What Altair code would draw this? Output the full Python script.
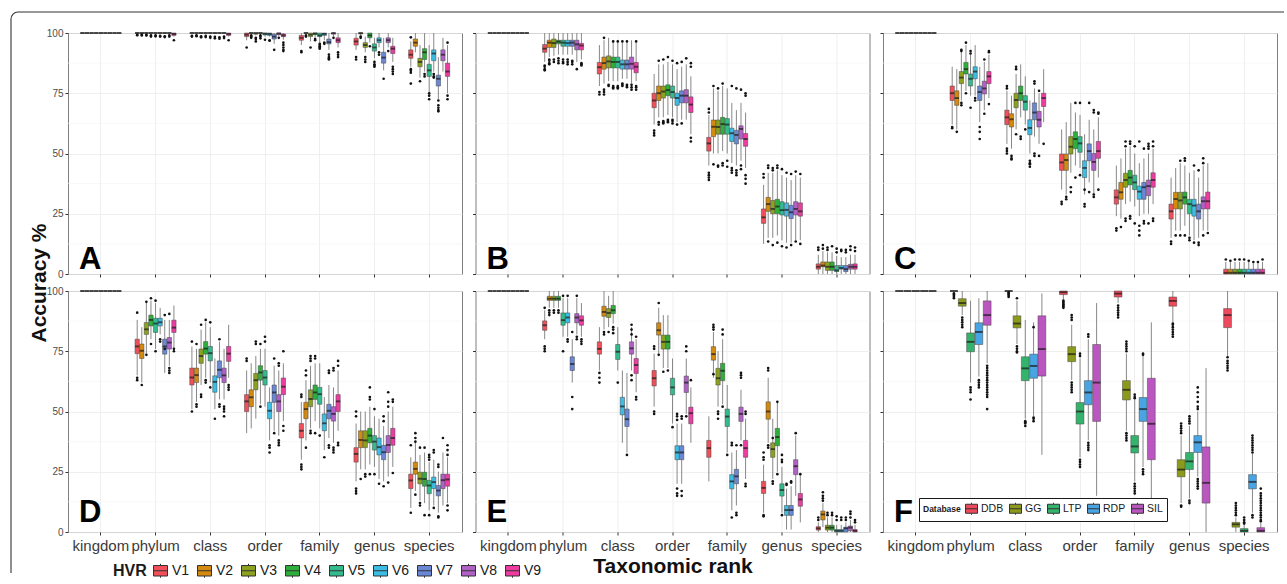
import altair as alt
import pandas as pd

RANKS = ["kingdom", "phylum", "class", "order", "family", "genus", "species"]
HVR = ["V1", "V2", "V3", "V4", "V5", "V6", "V7", "V8", "V9"]
HVR_COLORS = ["#F0505A", "#D4890F", "#8CA21F", "#2EAF3C", "#33BB8E", "#3CBDE4", "#6A88D6", "#B061C6", "#EC3DA0"]
DB = ["DDB", "GG", "LTP", "RDP", "SIL"]
DB_COLORS = ["#EE4A5C", "#8C9A1C", "#34B36D", "#48A4E2", "#BB56C0"]
MINOR_Y = [12.5, 37.5, 62.5, 87.5]

FULL = [100, 100, 100, 100, 100]

# box statistics per rank: one [low whisker, q1, median, q3, high whisker] per group
A_BOX = {
    "kingdom": [FULL] * 9,
    "phylum": [FULL, FULL, FULL, FULL, FULL, FULL, FULL, FULL, [98.5, 99, 99.6, 100, 100]],
    "class": [FULL, FULL, FULL, FULL, FULL, FULL, FULL, FULL, [98.5, 99, 99.6, 100, 100]],
    "order": [[97, 98.5, 99.3, 100, 100], FULL, [99, 99.5, 100, 100, 100], FULL, [98.5, 99.2, 99.7, 100, 100],
              [98.5, 99, 99.6, 100, 100], [95.5, 97.5, 98.5, 99.5, 100], [98.8, 99.3, 99.8, 100, 100], [97.2, 98.5, 99, 99.6, 100]],
    "family": [[95, 97, 98, 99, 100], FULL, [96.5, 98.5, 99.3, 100, 100], [98, 99.3, 99.8, 100, 100], [96, 98.5, 99, 100, 100],
               [97, 99, 99.6, 100, 100], [93, 95.5, 96.2, 97.5, 100], [98.5, 99.5, 100, 100, 100], [94, 96, 97, 98, 100]],
    "genus": [[93, 95, 96.5, 97.8, 100], [99, 99.6, 100, 100, 100], [92, 94, 95, 96, 98.5], [96, 98, 99, 100, 100],
              [89.5, 92.5, 94, 95.5, 98], [94, 96, 97, 98, 100], [84.5, 87.5, 89.8, 92, 98], [94, 96, 97, 98, 100], [88, 91.5, 93.5, 94.5, 98]],
    "species": [[86, 89.5, 91, 93, 96.5], [92, 94.5, 96, 97.5, 100], [81.5, 86, 88, 89.5, 95], [84, 89, 92, 93.5, 100],
                [75.5, 82, 84.5, 87, 95], [84, 88.5, 91.5, 93, 100], [72.5, 78, 81, 82.5, 90], [84, 88.5, 91, 93, 98], [75, 82, 84, 87.5, 95]],
}
A_OUT = {
    "phylum": [[99.2, 99.1], [99.3, 99], [99.2, 99], [99, 98.5], [99, 98.6], [98.8, 98.5], [98.6, 98.3], [99, 98.5], [97]],
    "class": [[98.8, 98.5], [99, 98.7], [98.6, 98.2], [98.8, 98.3], [98.5, 98], [98.4, 97.8], [98.2, 97.6], [98.5, 97.9], [97]],
    "order": [[94], [99, 98.5, 98], [98, 97.5, 96.5], [99, 98.5, 97.8], [97.2], [97, 96.8], [93], [98], [96, 95, 94, 93, 92.5]],
    "family": [[92.5, 92], [99, 98.5], [94], [97.5, 97], [95.5, 95, 94.5, 94, 93.5], [96, 95.5], [91, 90, 89.5, 89], [98], [92, 91, 90]],
    "genus": [[90, 89], [98.5, 98], [90, 89, 88], [94.5], [88, 87, 86.5, 86], [92, 91], [81], [92.5], [86, 85, 84, 83]],
    "species": [[98.2, 85, 84.3, 83.5, 79], [], [80], [83, 82], [75, 74, 72.5], [83, 82, 81.5], [72, 70, 69, 68, 67.5], [], [96, 74, 72.5]],
}

B_BOX = {
    "kingdom": [FULL] * 9,
    "phylum": [[88, 92, 93.5, 95.2, 100], [90, 94, 96, 97, 100], [90.5, 94, 95.8, 97.5, 100], [91, 95.5, 96.4, 97, 100],
               [91, 94.5, 96, 97, 100], [91, 94.5, 95.8, 97, 100], [91, 94.5, 96, 97, 100], [88, 93, 95.3, 97, 100], [89, 93, 94.8, 95.7, 100]],
    "class": [[78, 83, 85.8, 87.8, 95], [79, 85, 87.5, 90, 97], [80, 85.5, 88.2, 90.5, 98], [80, 85.5, 88, 90, 97],
              [80, 85.5, 88, 90, 97], [81, 85, 87, 88.8, 96], [81, 85, 87, 88.8, 96], [79, 85, 87.2, 90, 97], [80, 83.5, 86, 87.8, 96]],
    "order": [[62, 69, 72, 75, 83], [65, 72, 75, 78, 87], [65, 73, 75.7, 78, 87], [66, 74, 76.3, 78.5, 88],
              [65, 73, 75.5, 78, 87], [63, 70, 73, 75, 85], [64, 71, 74, 76, 86], [64, 71, 74, 76.5, 87], [58, 67, 70.3, 73.5, 82]],
    "family": [[45, 51, 54.2, 56.7, 66], [50, 57, 61.1, 63.9, 77], [50, 58, 61, 63.9, 76], [51, 58, 62.2, 65, 78],
               [50, 58, 62, 64.5, 77], [46, 55, 58.4, 60.5, 71], [45, 54, 57.7, 59.6, 68], [47, 56, 60.2, 61.5, 71], [44, 53, 56, 58.3, 67]],
    "genus": [[12.5, 21, 23.5, 27, 37], [15, 26, 29, 31.8, 42], [15, 25, 27, 30.5, 42], [16, 25, 28, 31, 43],
              [14, 24.5, 26.5, 30, 41], [13, 24, 26.6, 29.5, 40], [13, 23, 25.6, 28.5, 39], [14, 24.5, 27, 30, 41], [14, 24, 26, 29.5, 40]],
    "species": [[0, 2, 3, 4.2, 8], [0, 3, 3.5, 5, 9.5], [0, 1.5, 3, 5, 9], [0, 1.5, 3, 5, 9],
                [0, 1, 1.5, 3.5, 7.5], [0, 2, 2.5, 3.5, 7], [0, 1, 2, 3.5, 7], [0, 2, 3, 4, 8], [0, 2, 3, 4.2, 8]],
}
B_OUT = {
    "phylum": [[86.5, 86, 85, 84.5], [89, 88.5, 87.5, 87], [89, 88], [89.5, 88.5, 87.5], [89, 88, 87.5], [89, 88, 87], [88.5, 88, 87], [85], [87.5, 87, 86.5]],
    "class": [[75.5, 74.5], [76.5, 75.5, 74.5, 98], [78.5, 78], [78, 77.5, 77, 96.5], [78, 77.5, 77, 96.5], [79, 78.5, 78, 96.5], [78.5, 78, 77.5, 96.5], [78.5, 77.5, 76.5], [78, 77.5, 76.5, 96.5]],
    "order": [[59.5, 58.5, 57.5], [63, 62, 88.5], [63.5, 63, 62.5, 89], [64, 63.5, 63, 90], [64, 63.5, 62.5, 88.5], [62, 87.5], [62.5, 88], [89.5], [56.5, 55, 87.5, 86]],
    "family": [[42, 41, 40, 39, 68.5, 67], [45.5, 78], [44.5, 45, 77], [46, 45, 79], [47, 44.5], [44, 43, 42, 78], [43, 42, 41, 77], [45, 43.5, 76.5], [41, 39.5, 37.5, 75, 74]],
    "genus": [[40, 41.5], [44, 45, 13.5], [43, 44, 12], [45, 44, 13], [43.5, 11.5], [42, 11], [41.5, 12], [42.5, 13.5], [41.5, 12.5]],
    "species": [[10, 11], [10.5, 12], [10, 11], [11.5], [9, 10.5], [9.5, 10], [9, 10], [10, 11.5], [9.5, 11]],
}

C_BOX = {
    "kingdom": [FULL] * 9,
    "phylum": [[62, 72, 75, 78, 86], [60, 70, 73, 76, 85], [72, 79, 81.5, 84, 92], [76, 83, 85, 87.8, 95],
               [74, 78, 81, 83, 91], [74, 81, 84, 86, 95], [63, 72, 75.5, 78, 86], [68, 74.7, 77, 80, 88], [73, 79, 82, 84, 91]],
    "class": [[54, 62, 65, 68, 76], [52, 61, 64.2, 66.5, 74], [60, 69, 72.2, 75, 83], [65, 72, 75, 78, 87],
              [62, 68, 71.5, 74, 82], [50, 57.8, 60.6, 64, 72], [57, 64, 67, 71, 77], [54, 61, 64, 67.5, 75], [63, 69.5, 73, 75, 85]],
    "order": [[35, 43, 46.3, 49.8, 60], [33, 43, 47.3, 49.8, 63], [42, 49.8, 52.8, 57, 71], [45, 52, 56, 59, 67],
              [44, 50.5, 54.2, 57, 66], [33, 40, 44, 47, 58], [38, 47, 51, 54, 64], [33, 43, 46.5, 50, 60], [40, 48, 51, 55, 65]],
    "family": [[24, 29, 31.8, 34.9, 45], [23, 31, 33.9, 38, 48], [29, 36, 39, 41.8, 52], [30, 37, 40, 43, 53],
               [28, 35, 38, 41, 50], [24, 31, 34.2, 36.5, 46], [25, 31, 36, 38, 48], [25, 32.5, 36.5, 39, 50], [29, 36, 39, 42, 52]],
    "genus": [[15, 22.8, 26, 29, 40], [18, 27, 31.1, 33.9, 44], [18, 27, 30.5, 33.9, 46], [20, 29, 31.8, 34, 45],
              [16, 25, 29, 31, 42], [14, 24, 28.4, 31, 43], [15, 22.8, 26, 29, 40], [18, 27, 30.2, 32, 45], [18, 27, 30.2, 34, 46]],
    "species": [[0, 0, 0.5, 2, 5], [0, 0, 0.5, 2, 5], [0, 0, 0.5, 2, 5], [0, 0, 0.5, 2, 5],
                [0, 0, 0.5, 2, 5], [0, 0, 0.5, 2, 5], [0, 0, 0.5, 2, 4.5], [0, 0, 0.5, 2, 4.5], [0, 0, 0.5, 2, 5]],
}
C_OUT = {
    "phylum": [[61, 60.5], [59], [92.5, 93, 71, 70], [96, 75], [91.5, 92.5, 69], [73, 72], [61, 59, 56], [89, 66.5], [92, 92.5, 70.5]],
    "class": [[78, 77, 52, 51, 50], [49, 48, 47.5], [86, 85, 58], [57, 56], [60], [47, 46, 45.5, 44.5], [80, 79, 50, 49], [76, 49], [54]],
    "order": [[30, 29], [32, 31], [36, 34], [71, 40], [71, 41], [35, 29, 28], [34, 71], [33, 32, 67, 68], [35, 66.5, 67]],
    "family": [[19, 18], [19.5], [55, 53, 22, 23], [54, 55, 23, 24], [53, 21], [55, 20, 18, 16], [52, 22, 21], [52, 53, 54, 21], [55, 53, 23, 22]],
    "genus": [[13.5, 12.5], [16], [47, 16], [48, 47, 16], [15, 14], [45, 13], [43, 13, 12], [48, 46, 16], [17]],
    "species": [[6], [5.5], [6], [6], [6], [5.5], [5], [5], [6]],
}

D_BOX = {
    "kingdom": [FULL] * 9,
    "phylum": [[65, 74, 77, 80, 88], [62, 72, 75.2, 78, 85], [74, 82, 84.1, 86.9, 95], [80, 85.5, 88, 90, 96],
               [76, 82.8, 86.5, 88.7, 95], [82, 85.5, 87, 88.7, 93], [66, 73.8, 77, 80, 88], [69, 75.9, 78.6, 80.7, 88], [76, 82.8, 84.8, 87.9, 94]],
    "class": [[51, 61, 64.1, 68, 77], [54, 62, 65.1, 68, 76], [61, 70, 73, 75.9, 84], [64, 73.8, 76.1, 79, 87],
              [62, 71, 74.2, 77, 85], [51, 58, 62.3, 64.8, 72], [55, 64, 67.3, 71, 79], [55, 62, 65, 68, 76], [64, 70.8, 74, 77, 86]],
    "order": [[41, 50, 54.2, 57, 67], [43, 52, 55.9, 59, 70], [47, 59, 63, 65.8, 73], [53, 63, 66.2, 69, 76],
              [52, 61, 64.1, 67, 76], [38, 47, 50.3, 53.8, 60], [42, 53.8, 57.9, 61, 69], [40, 50, 54.2, 57, 67], [46, 57, 60.3, 63.9, 70]],
    "family": [[30, 39, 42, 45, 54], [38, 47, 51, 53.8, 63], [43, 52, 55.2, 59, 69], [46, 55, 57.9, 61, 70],
               [43, 53, 57.2, 60, 70], [34, 42, 45.1, 49, 56], [39, 47, 50.3, 53, 61], [37, 46, 49, 52, 60], [42, 50, 54.2, 57, 67]],
    "genus": [[21, 29, 32.4, 35, 45], [26, 35, 38.2, 42, 50], [26, 35, 38, 42, 50], [28, 37, 40, 43, 52],
              [27, 34, 37.5, 40, 48], [22, 32, 35.2, 39, 47], [21, 30, 33.1, 36, 44], [23, 33, 36.1, 40, 50], [27, 36, 39, 43, 52]],
    "species": [[10, 18, 21.4, 24, 31], [17, 24, 26.2, 29, 37], [13, 20, 22.1, 24.8, 32], [12, 19, 22, 24.8, 33],
                [9, 15.9, 19.3, 21.4, 29], [11, 18, 20.7, 22.8, 30], [8, 15, 17.2, 19.3, 25], [11, 18, 21.5, 24, 33], [12, 19, 21.8, 24, 31]],
}
D_OUT = {
    "phylum": [[64, 63, 91], [61], [73.5, 95.5], [97, 78], [75, 96], [80, 79], [90, 76], [68, 67, 66, 90.5], [76, 75]],
    "class": [[79, 50], [78, 53, 52], [86, 57, 56], [88, 63, 62], [87, 60], [47], [80, 53, 52], [52, 51, 50, 48], [61, 60, 59]],
    "order": [[71, 72], [], [78, 79], [78, 52], [81, 79], [36, 35, 33], [72, 41], [70, 69, 38, 37, 36], [75, 44, 42]],
    "family": [[28, 27, 26, 57, 56], [35, 67, 65], [73, 72, 71, 42, 41], [73, 72, 41], [40], [31], [67, 66, 36, 35], [68, 67, 35, 34, 33], [71, 69, 37, 36]],
    "genus": [[50, 48, 18, 17, 16], [22], [24, 23], [60, 56, 55, 24], [51, 24], [20], [48, 46, 19], [58, 54, 52, 20.5], [55, 54, 24.5]],
    "species": [[36, 8], [41, 39, 37.5, 15.5], [35, 12, 11], [35, 7], [32, 31, 30, 7], [34, 33, 10], [28, 27, 6.5, 6], [39], [36, 34, 32, 11, 9]],
}

E_BOX = {
    "kingdom": [FULL] * 9,
    "phylum": [[80, 83.7, 85.8, 87.6, 92], [93, 96.1, 96.8, 97.8, 100], [93, 96.1, 96.8, 97.8, 100], [93, 96.1, 96.8, 97.8, 100],
               [81, 85.8, 87.9, 90.9, 97], [81, 86.8, 89, 90.9, 97], [62, 67, 69.7, 72.7, 80], [82, 86.8, 89, 90.6, 97], [81, 85.8, 87.8, 89.7, 95]],
    "class": [[67, 73.8, 76, 78.9, 85], [84, 89.5, 91.3, 93.7, 100], [85, 89, 90.9, 92.7, 98], [86.5, 90.6, 92, 94, 100],
              [67, 71.6, 74.8, 77.8, 85], [37, 48.6, 52.1, 55.9, 67], [33, 43.8, 46.8, 51, 66], [67, 73.8, 76.2, 78.9, 85], [58, 65.8, 69.3, 72, 80]],
    "order": [[52, 60.6, 63.8, 67, 74], [74, 81.7, 83.7, 86.8, 93], [68, 75.9, 78.9, 81.7, 90], [68, 75.9, 78.9, 81.7, 90],
              [45, 56.9, 60, 63.8, 72], [20, 30, 33, 35.8, 45], [20, 30, 33, 35.8, 45], [49, 57.9, 62, 64.7, 72], [37, 44.9, 49.3, 51.8, 60]],
    "family": [[21, 31, 34.8, 38, 48], [64, 71.3, 73.8, 76.9, 83], [52, 61, 63.8, 67.9, 75], [53, 62.8, 66.9, 70, 80],
               [33, 43.8, 47.9, 51, 61], [9, 17.9, 21, 23.8, 33], [11, 20, 23.1, 26, 34], [38, 45.9, 49, 51.8, 59], [22, 31, 34.8, 38, 47]],
    "genus": [[8, 16, 18.3, 21, 28], [37, 46.8, 50, 54, 64], [22, 31, 34.4, 37, 47], [25, 35.8, 39.4, 43, 54],
              [8, 14.9, 17.4, 20, 27], [1, 6.9, 9.1, 11, 18], [1, 6.9, 9.1, 11, 19], [15, 23.8, 27.3, 30, 40], [4, 10.7, 13.5, 16, 24]],
    "species": [[0, 0.8, 1.5, 2.2, 4], [2, 5, 7.3, 8.7, 12], [0, 0.8, 1.8, 2.8, 6], [0, 0.8, 1.8, 2.8, 6],
                [0, 0, 0.5, 1, 3], [0, 0, 0.5, 1, 3], [0, 0, 1.5, 2, 4], [0, 0.5, 1.8, 2.5, 5], [0, 0, 0.5, 1, 3]],
}
E_OUT = {
    "phylum": [[93, 77, 76, 75], [92, 91, 90], [92, 91], [92, 91], [98, 75], [98, 80, 79], [83, 56, 51], [98, 81, 80], [80, 79, 78]],
    "class": [[66, 64, 62], [83, 82], [83], [85, 84, 82.5], [62], [], [32], [86, 84, 82, 65, 63], [81, 56, 55]],
    "order": [[77, 76, 50, 49], [95, 73.5], [66.5], [67], [43.5], [49, 48, 46.5, 18, 16, 15], [48, 47, 17, 15], [77, 75, 48], [63]],
    "family": [[], [86, 85, 84, 65.5], [50, 49, 47], [84, 82, 52], [32], [36, 37, 6], [36, 8, 7], [66, 65, 64, 36], [50, 49, 20, 19]],
    "genus": [[33, 31, 30, 7, 6.5], [68, 67, 36, 35], [39, 21, 20], [54, 24], [32, 30, 29, 7], [20, 19.5], [21, 20.5], [41], [24]],
    "species": [[5, 6], [13, 14, 15, 16.5], [7, 8], [7, 8], [5, 6.5], [5, 6], [5, 6], [6, 7.5, 8.5], [4, 5]],
}

F_BOX = {
    "kingdom": [FULL] * 5,
    "phylum": [FULL, [90, 93.7, 95, 96.8, 100], [62, 74.8, 78.9, 82.6, 96], [64.5, 77.8, 83, 86.8, 97], [70, 85.8, 90, 95.9, 100]],
    "class": [FULL, [78, 84.7, 86.5, 89.7, 96], [47, 62.8, 67.9, 72.7, 88], [48, 63.8, 68.9, 73.8, 87], [32, 64.7, 75.9, 89.7, 99]],
    "order": [[96.5, 98.5, 99.5, 100, 100], [63, 70.7, 73.8, 76.9, 86], [31, 44.8, 50, 53.7, 72], [38, 52.8, 57.9, 62.8, 80], [15, 45.9, 62, 77.8, 95]],
    "family": [[95, 97.5, 98.9, 100, 100], [42, 54.8, 59, 62.8, 74], [21, 32.8, 35.5, 40, 55], [27, 45.9, 51, 55.8, 73], [6, 30, 44.9, 63.8, 87]],
    "genus": [[87, 93.7, 95.9, 97.5, 100], [12, 22.9, 25.9, 30, 40], [14, 25.9, 29.3, 33, 44], [23, 33, 37.2, 40, 50], [0, 12, 20.4, 35.3, 68]],
    "species": [[73, 84.8, 90, 92.7, 100], [0, 2, 3.2, 4, 6], [0, 0, 0.5, 1.4, 3], [8, 17.9, 20.8, 23.8, 32.5], [0, 0, 0.5, 1.8, 4]],
}
F_OUT = {
    "phylum": [[99, 98.5, 98, 97.5, 97], [89, 88, 87, 86, 85], [60, 59, 58, 55], [63, 62, 61, 60],
               [69, 68, 67, 66, 65, 64, 63, 62, 61, 60, 59, 58, 57, 56, 51]],
    "class": [[99.5, 99, 98.5, 98, 97.5], [97, 77, 76, 75, 74.5], [46, 45.5, 45, 44], [47.5, 47, 46, 85], []],
    "order": [[96, 95.5, 95, 94.5, 94, 93.5, 93], [90, 89, 88, 62, 61, 60, 59, 58], [74, 73, 30, 29, 28, 27], [82, 81, 37, 36, 35, 34], []],
    "family": [[94, 93, 92, 91, 90, 89], [79, 78, 77, 76, 75, 41, 40, 39, 38], [57, 56, 55.5, 20, 19, 18, 17, 16], [74, 73.5, 26, 25, 24], []],
    "genus": [[86.5, 86, 85, 84, 83, 82, 81], [45, 44, 43, 42, 41, 11, 10.5], [48, 47, 46, 45, 13, 12],
              [60, 58, 56, 54, 52, 51, 22, 21, 20, 19, 18], []],
    "species": [[72.5, 71, 70, 69, 68, 67], [12, 11, 10, 9, 8, 7], [6, 5, 4, 3.5], [40, 39, 38, 37, 36, 35, 34, 33, 7, 6],
                [18, 16, 15, 14, 13, 12, 11, 10, 9, 8, 7, 6, 5, 4.5]],
}

W, H = 394, 241
FONT = "Liberation Sans"
BOX_GLYPH = "M-1,-0.75H1V0.75H-1Z M-1,0H1 M0,-0.75V-1 M0,0.75V1"


def tables(box, out, groups):
    rows = []
    for r in RANKS:
        for g, s in zip(groups, box[r]):
            rows.append({"rank": r, "grp": g, "lo": s[0], "q1": s[1], "med": s[2], "q3": s[3], "hi": s[4]})
    orows = []
    for r, lists in out.items():
        for g, vals in zip(groups, lists):
            for v in vals:
                orows.append({"rank": r, "grp": g, "val": v})
    return pd.DataFrame(rows), pd.DataFrame(orows)


def panel(box, out, groups, colors, letter, bottom_row, left_col, legend=None, x_title=None, extra=None):
    bdf, odf = tables(box, out, groups)
    xaxis = alt.Axis(labels=bottom_row, ticks=True, tickSize=3, grid=True, domain=False, labelAngle=0,
                     title=x_title, bandPosition=0.5, labelFontSize=15, labelColor="#3a3a3a", labelPadding=3,
                     titleFontSize=21, titleFontWeight="bold", titleColor="#111", titlePadding=2)
    yaxis = alt.Axis(values=[0, 25, 50, 75, 100], labels=left_col, ticks=True, tickSize=3, grid=True, domain=False,
                     title=None, labelFontSize=10, labelColor="#4d4d4d", labelPadding=2)
    xs = alt.Scale(domain=RANKS, paddingInner=0.25, paddingOuter=0.225)
    ys = alt.Scale(domain=[0, 100], nice=False, zero=False)
    xo = alt.XOffset("grp:N", sort=groups, scale=alt.Scale(domain=groups, paddingInner=0.06, paddingOuter=0))
    X = alt.X("rank:N", sort=RANKS, scale=xs, axis=xaxis)

    def Y(f):
        return alt.Y(f, type="quantitative", scale=ys, axis=yaxis)

    tick = 4.3 if len(groups) == 9 else 7.8
    minor = alt.Chart(pd.DataFrame({"v": MINOR_Y})).mark_rule(color="#f4f4f4", strokeWidth=0.6).encode(y=Y("v"))
    base = alt.Chart(bdf)
    whisk = base.mark_rule(color="#7a7a7a", strokeWidth=0.9).encode(x=X, xOffset=xo, y=Y("lo"), y2="hi")
    boxes = base.mark_bar(stroke="#444", strokeWidth=0.5, opacity=1).encode(
        x=X, xOffset=xo, y=Y("q1"), y2="q3",
        color=alt.Color("grp:N", sort=groups, scale=alt.Scale(domain=groups, range=colors), legend=legend))
    meds = base.mark_tick(color="#1a1a1a", thickness=1.9, size=tick).encode(x=X, xOffset=xo, y=Y("med"))
    pts = alt.Chart(odf).mark_circle(size=7, color="#111", opacity=1).encode(x=X, xOffset=xo, y=Y("val"))
    lab = alt.Chart(pd.DataFrame({"t": [letter]})).mark_text(
        font=FONT, fontSize=31, fontWeight="bold", color="#000", align="left", baseline="alphabetic").encode(
        text="t:N", x=alt.value(11), y=alt.value(H - (10 if bottom_row else 5)))
    layers = [minor, whisk, boxes, meds, pts, lab]
    if extra:
        layers += extra
    return alt.layer(*layers).properties(width=W, height=H)


one = pd.DataFrame({"k": [0]})
ytitle = alt.Chart(pd.DataFrame({"t": ["Accuracy %"]})).mark_text(
    font=FONT, fontSize=21, fontWeight="bold", color="#111", angle=270, align="center", baseline="middle").encode(
    text="t:N", x=alt.value(-28), y=alt.value(250))
frame_top = alt.Chart(one).mark_rule(color="#333", strokeWidth=1.1).encode(
    x=alt.value(-50), x2=alt.value(1216), y=alt.value(-21))
frame_left = alt.Chart(one).mark_rule(color="#333", strokeWidth=1.1).encode(
    x=alt.value(-57), y=alt.value(-14), y2=alt.value(540))
frame_corner = alt.Chart(one).mark_arc(color="#333", radius=7.55, radius2=6.45, theta=4.712389, theta2=6.283185).encode(
    x=alt.value(-50), y=alt.value(-14))

hvr_legend = alt.Legend(orient="none", legendX=45, legendY=272, direction="horizontal", title="HVR",
                        titleOrient="left", titleFontSize=16, titleFontWeight="bold", titleColor="#1a1a1a",
                        titleFont=FONT, labelFont=FONT, labelFontSize=14, labelColor="#1a1a1a",
                        symbolType=BOX_GLYPH, symbolSize=196, symbolStrokeColor="#333", symbolStrokeWidth=1,
                        symbolOpacity=1, columnPadding=5, labelOffset=4, titlePadding=6)
db_legend = alt.Legend(orient="none", legendX=36, legendY=207, direction="horizontal", title="Database",
                       titleOrient="left", titleFontSize=8.5, titleFontWeight="bold", titleColor="#1a1a1a",
                       titleFont=FONT, labelFont=FONT, labelFontSize=10.5, labelColor="#1a1a1a",
                       symbolType=BOX_GLYPH, symbolSize=144, symbolStrokeColor="#333", symbolStrokeWidth=1,
                       symbolOpacity=1, columnPadding=3, labelOffset=3, titlePadding=4,
                       strokeColor="#1a1a1a", fillColor="white", padding=4)

pA = panel(A_BOX, A_OUT, HVR, HVR_COLORS, "A", False, True, extra=[ytitle, frame_top, frame_left, frame_corner])
pB = panel(B_BOX, B_OUT, HVR, HVR_COLORS, "B", False, False)
pC = panel(C_BOX, C_OUT, HVR, HVR_COLORS, "C", False, False)
pD = panel(D_BOX, D_OUT, HVR, HVR_COLORS, "D", True, True, legend=hvr_legend)
pE = panel(E_BOX, E_OUT, HVR, HVR_COLORS, "E", True, False, x_title="Taxonomic rank")
pF = panel(F_BOX, F_OUT, DB, DB_COLORS, "F", True, False, legend=db_legend)

chart = alt.concat(pA, pB, pC, pD, pE, pF, columns=3, spacing={"row": 17, "column": 13.5}, bounds="flush").resolve_scale(
    color="independent", xOffset="independent"
).properties(
    padding={"left": 9, "top": 10, "right": 0, "bottom": 0}, background="white"
).configure(font=FONT).configure_view(stroke="#7f7f7f", strokeWidth=1).configure_axis(
    gridColor="#ebebeb", gridWidth=0.8, tickColor="#333", labelFont=FONT, titleFont=FONT
)

chart.save("out.html", embed_options={"renderer": "svg", "actions": False})
